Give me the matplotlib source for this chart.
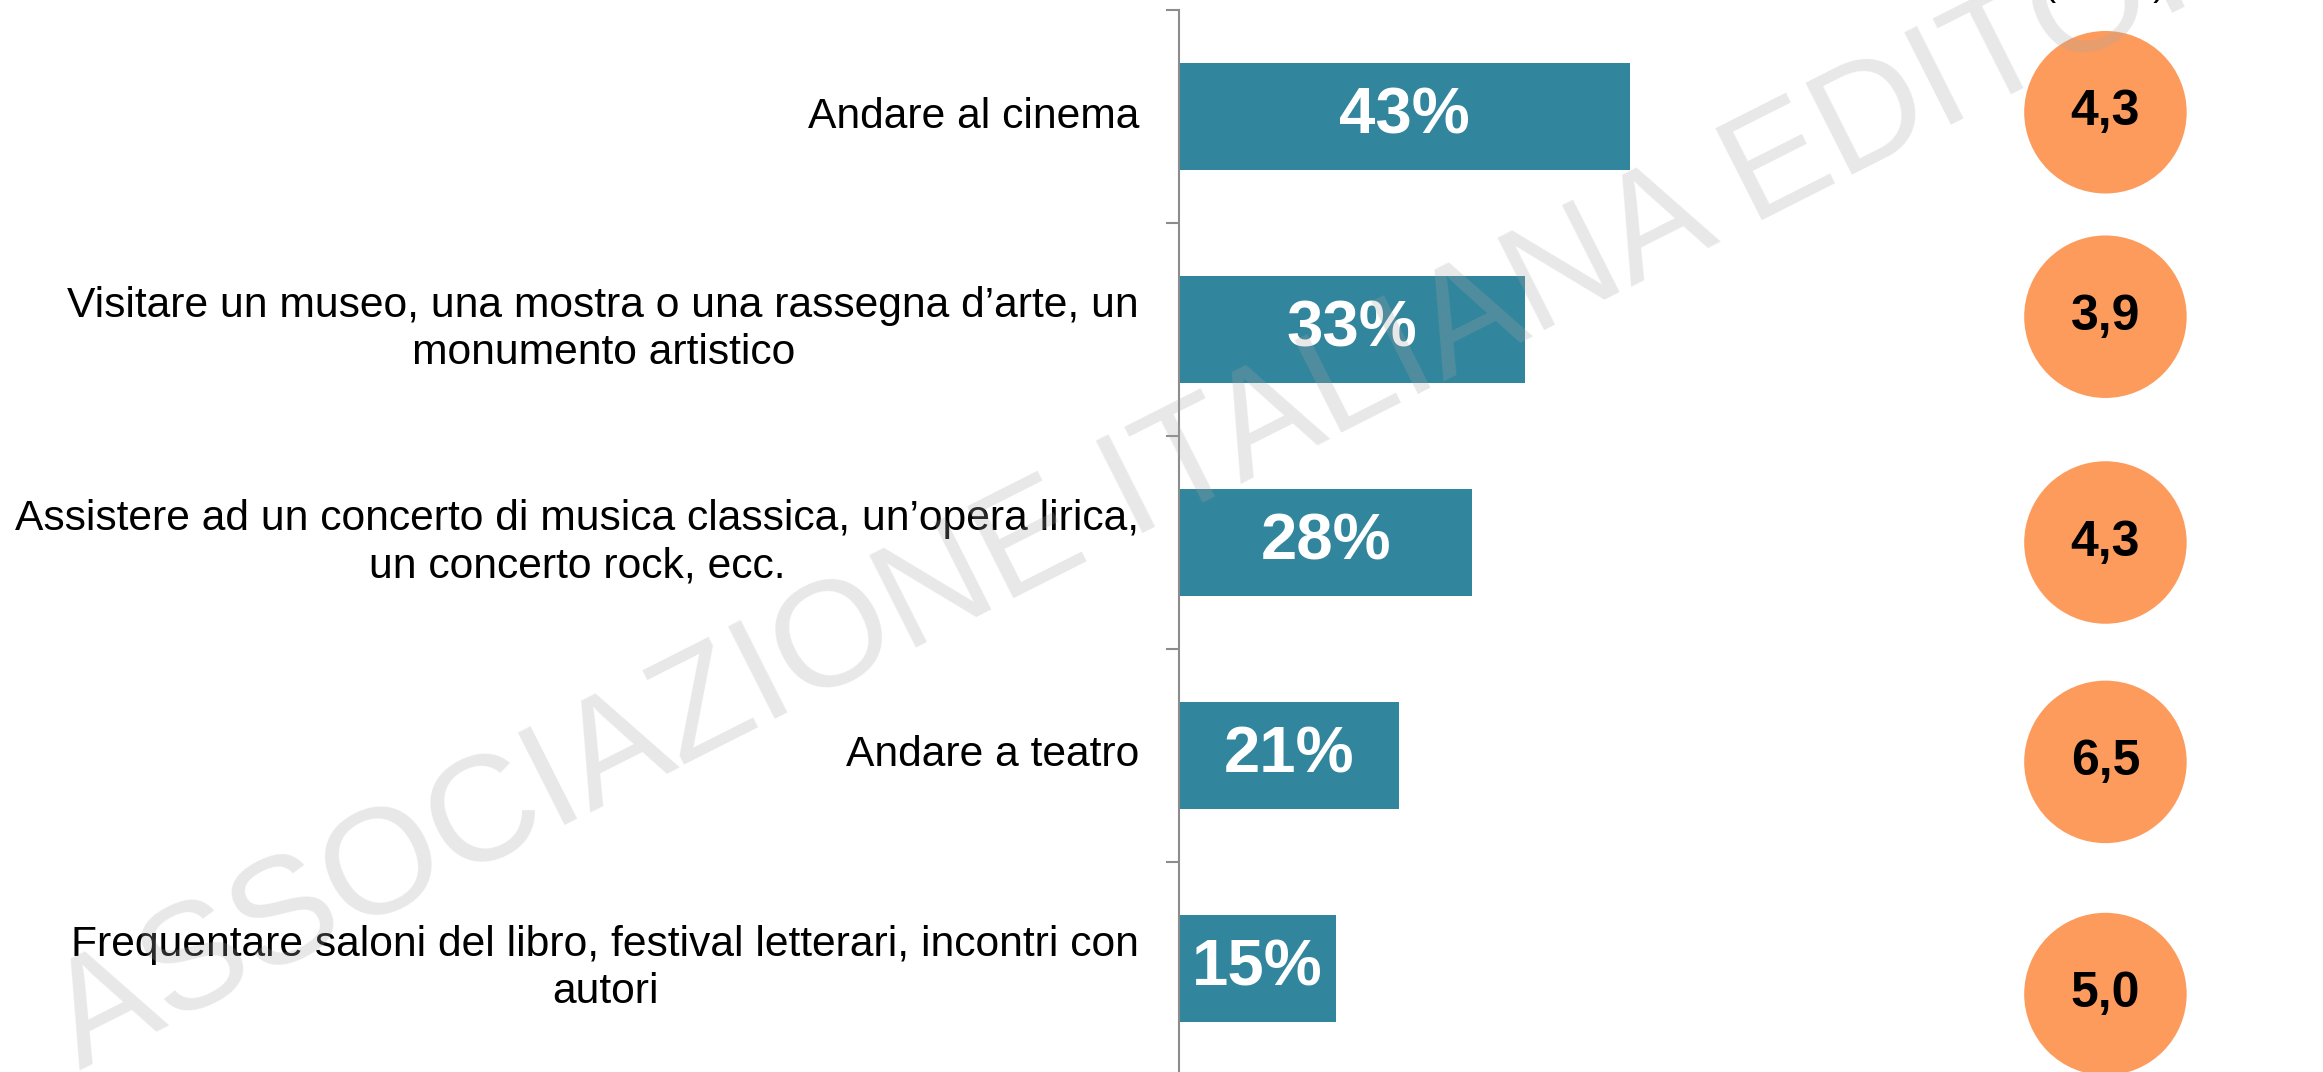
import matplotlib
matplotlib.use("Agg")
import matplotlib.pyplot as plt

plt.rcParams['font.family'] = ['Liberation Sans', 'DejaVu Sans']

# data
categories = [
    "Andare al cinema",
    "Visitare un museo, una mostra o una rassegna d\u2019arte, un\nmonumento artistico",
    "Assistere ad un concerto di musica classica, un\u2019opera lirica,\nun concerto rock, ecc.",
    "Andare a teatro",
    "Frequentare saloni del libro, festival letterari, incontri con\nautori",
]
share_pct = [43, 33, 28, 21, 15]
avg_times = [4.3, 3.9, 4.3, 6.5, 5.0]
top_note = "(media)"

# layout
W, H, DPI = 2323, 1072, 100
AX_LEFT_PX, AX_TOP_PX, AX_BOTTOM_PX = 1179, 10, 1075
PX_PER_PCT = 10.48
CIRCLE_X = 88.4
CIRCLE_Y_SHIFT = [-0.02, -0.06, 0.0, 0.03, 0.12]
BAR_COLOR = "#31859C"
DOT_COLOR = "#FD9B5D"
AXIS_GRAY = "#8C8C8C"

fig = plt.figure(figsize=(W / DPI, H / DPI), dpi=DPI)
ax = fig.add_axes([AX_LEFT_PX / W, 1 - AX_BOTTOM_PX / H,
                   1 - AX_LEFT_PX / W, (AX_BOTTOM_PX - AX_TOP_PX) / H])

n = len(categories)
ypos = list(range(n))
ax.barh(ypos, share_pct, height=0.5, color=BAR_COLOR, edgecolor="none")
ax.set_xlim(0, (W - AX_LEFT_PX) / PX_PER_PCT)
ax.set_ylim(n - 0.5, -0.5)

for y, v in zip(ypos, share_pct):
    ax.text(v / 2, y, f"{v}%", ha="center", va="center", color="white",
            fontsize=47, fontweight="bold")

# category labels
for y, lab in zip(ypos, categories):
    ax.text(-40 / (W - AX_LEFT_PX), y, lab, transform=ax.get_yaxis_transform(),
            ha="right", va="center", multialignment="center", fontsize=30.7,
            color="black", linespacing=1.25)

# orange dots with average
cy = [y + s for y, s in zip(ypos, CIRCLE_Y_SHIFT)]
ax.scatter([CIRCLE_X] * n, cy, s=117 ** 2, color=DOT_COLOR, edgecolor="none",
           clip_on=False, zorder=3)
for y, v in zip(cy, avg_times):
    ax.text(CIRCLE_X, y, f"{v:.1f}".replace(".", ","), ha="center", va="center",
            fontsize=36, fontweight="bold", color="black", zorder=4)

# axis styling
for s in ["top", "right", "bottom"]:
    ax.spines[s].set_visible(False)
ax.spines["left"].set_color(AXIS_GRAY)
ax.spines["left"].set_linewidth(1.5)
ax.set_xticks([])
ax.set_yticks([i - 0.5 for i in range(n + 1)])
ax.set_yticklabels([])
ax.tick_params(axis="y", direction="out", length=9.5, width=1.5, color=AXIS_GRAY)

# cut-off header above the dots
fig.text(2105 / W, 1 + 5 / H, top_note, ha="center", va="baseline", fontsize=26)

# watermark
fig.text(80 / W, 1 - 1070 / H, "ASSOCIAZIONE ITALIANA EDITORI", fontsize=109,
         color="#A7A7A7", alpha=0.26, rotation=26.8, rotation_mode="anchor",
         ha="left", va="baseline", zorder=10)

fig.savefig("out.png", dpi=DPI)
